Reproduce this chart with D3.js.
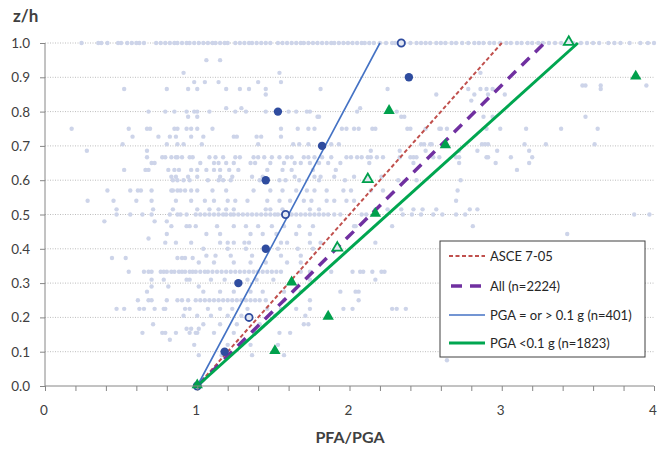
<!DOCTYPE html>
<html>
<head>
<meta charset="utf-8">
<script src="https://d3js.org/d3.v7.min.js"></script>
<style>
  body { margin: 0; background: #fff; }
  svg text { font-family: Lato, 'Open Sans', sans-serif; }
</style>
</head>
<body>
<div id="chart"></div>
<script>
// z/h levels of the story-level points
const zLevels = [0, 0.1, 0.2, 0.3, 0.4, 0.5, 0.6, 0.7, 0.8, 0.9, 1.0];
// PGA >= 0.1 g, mean PFA/PGA per level
const bluePoints = [1.0, 1.18, 1.34, 1.27, 1.45, 1.58, 1.45, 1.82, 1.53, 2.39, 2.34];
// PGA < 0.1 g
const greenPoints = [1.0, 1.51, 1.86, 1.62, 1.92, 2.17, 2.12, 2.63, 2.26, 3.88, 3.44];
const blueOpen = [0, 0.2, 0.5, 1.0];
const greenOpen = [0.4, 0.6, 1.0];

// fitted lines: PFA/PGA at z/h = 0 and z/h = 1
const fitNames = ["ASCE 7-05", "All (n=2224)", "PGA = or > 0.1 g (n=401)", "PGA <0.1 g (n=1823)"];
const fitStart = [1, 1, 1, 1];
const fitEnd = [3.0, 3.28, 2.2, 3.5];

const xTicks = [0, 1, 2, 3, 4];
const yTicks = [0, 0.1, 0.2, 0.3, 0.4, 0.5, 0.6, 0.7, 0.8, 0.9, 1.0];

// all recorded data points, grouped by z/h row: [z/h, [PFA/PGA ...]]
const cloud = [
  [1.0, [0.24, 0.35, 0.37, 0.41, 0.48, 0.5, 0.54, 0.57, 0.6, 0.62, 0.65, 0.73, 0.76, 0.79, 0.82, 0.85, 0.87, 0.9, 0.93, 0.95, 0.98, 1.01, 1.04, 1.07, 1.1, 1.12, 1.15, 1.18, 1.2, 1.25, 1.28, 1.31, 1.34, 1.36, 1.39, 1.42, 1.45, 1.48, 1.53, 1.56, 1.59, 1.62, 1.65, 1.68, 1.7, 1.73, 1.76, 1.79, 1.82, 1.85, 1.88, 1.9, 1.93, 1.96, 1.99, 2.02, 2.05, 2.08, 2.1, 2.13, 2.16, 2.2, 2.24, 2.28, 2.3, 2.36, 2.4, 2.44, 2.47, 2.5, 2.53, 2.57, 2.6, 2.63, 2.67, 2.7, 2.74, 2.78, 2.82, 2.85, 2.88, 2.92, 2.95, 2.99, 3.03, 3.06, 3.1, 3.13, 3.17, 3.2, 3.24, 3.27, 3.31, 3.35, 3.39, 3.47, 3.52, 3.56, 3.6, 3.64, 3.7, 3.74, 3.78, 3.84, 3.91, 3.96, 4.0]],
  [0.95, [1.06, 1.15]],
  [0.913, [0.91, 1.54, 2.86]],
  [0.886, [0.98, 1.05, 1.14, 1.40, 1.55]],
  [0.876, [3.53, 3.55, 3.65, 3.95]],
  [0.866, [0.52, 0.80, 0.94, 1.0, 1.19, 1.28, 1.34, 1.45, 1.81, 2.25, 2.78, 2.86, 2.90, 2.94, 3.65]],
  [0.85, [1.45, 2.57, 2.82, 2.91, 3.02]],
  [0.832, [2.80]],
  [0.81, [1.19, 1.29, 2.07]],
  [0.80, [0.68, 0.79, 0.85, 0.93, 0.98, 1.0, 1.08, 1.25, 1.32, 1.45, 1.60, 1.65, 1.72, 1.74, 2.05, 2.31]],
  [0.785, [0.94, 1.0, 1.79, 1.80, 2.34, 2.36, 2.88, 2.94, 3.55]],
  [0.75, [0.175, 0.55, 0.67, 0.69, 0.85, 0.87, 0.93, 0.96, 1.0, 1.10, 1.55, 1.66, 1.73, 1.77, 1.95, 1.98, 2.03, 2.06, 2.15, 2.17, 2.38, 2.40, 2.50, 2.59, 2.60, 2.64, 2.90, 2.99, 3.16, 3.39, 3.63]],
  [0.727, [0.575, 0.745, 0.82, 0.86, 0.96, 1.04, 1.24, 1.26, 1.39, 1.42, 1.55]],
  [0.705, [0.51, 0.80, 0.87, 0.91, 1.03, 1.40, 1.63, 1.67, 1.73, 1.81, 1.88, 1.93, 2.47, 2.49, 2.53, 2.54, 2.87, 2.89, 2.91, 3.15, 3.29, 3.61]],
  [0.686, [0.275, 0.67, 2.14, 2.33, 2.50, 2.72, 2.84, 2.97, 3.18]],
  [0.667, [0.67, 0.77, 0.79, 0.83, 0.86, 0.87, 0.90, 0.95, 0.97, 1.08, 1.12, 1.17, 1.25, 1.28, 1.37, 1.40, 1.44, 1.49, 1.54, 1.59, 1.62, 1.70, 1.73, 1.77, 1.82, 1.88, 1.98, 2.01, 2.05, 2.08, 2.12, 2.14, 2.18, 2.22, 2.33, 2.40, 2.42, 2.44, 2.55, 2.59, 2.70, 2.72, 2.90, 2.91, 3.06, 3.20]],
  [0.65, [0.70, 0.72, 1.02, 1.11, 1.14, 1.19, 1.24, 1.35, 1.38, 1.48, 1.57, 1.64, 1.68, 1.74, 1.80, 1.86, 1.94, 2.13, 2.42, 2.72, 2.96, 3.18]],
  [0.63, [0.52, 0.66, 0.68, 0.81, 0.85, 0.88, 0.96, 1.0, 1.06, 1.11, 1.15, 1.21, 1.27, 1.46, 1.56, 1.62, 1.76, 1.91, 3.10]],
  [0.61, [0.83, 0.86, 0.94, 1.0, 1.15, 1.23, 1.36, 1.43, 1.64, 1.77, 1.81, 1.90, 2.03, 2.12, 2.21]],
  [0.60, [0.84, 0.87, 0.91, 0.95, 1.07, 1.14, 1.17, 1.22, 1.41, 1.54, 1.58, 1.67, 1.80, 1.97, 2.32, 2.44, 2.73]],
  [0.57, [0.41, 0.56, 0.61, 0.63, 0.70, 0.83, 0.84, 0.87, 0.89, 0.92, 0.96, 1.0, 1.10, 1.19, 1.37, 1.48, 1.56, 1.65, 1.72, 1.77, 1.85, 1.96, 2.01, 2.14, 2.22, 2.71]],
  [0.54, [0.28, 0.45, 0.60, 0.70, 0.86, 0.96, 1.05, 1.11, 1.20, 1.25, 1.33, 1.46, 1.54, 1.61, 1.70, 1.75, 1.85, 1.90, 1.98, 2.03, 2.70]],
  [0.515, [0.47, 0.71, 0.84, 1.0, 1.08, 1.14, 1.19, 1.24, 1.45, 1.48, 1.56, 1.74, 1.80, 2.17, 2.25, 2.34, 2.42, 2.48, 2.57, 2.79, 2.84]],
  [0.5, [0.47, 0.56, 0.64, 0.70, 0.82, 0.87, 0.89, 0.93, 0.99, 1.02, 1.05, 1.08, 1.11, 1.14, 1.17, 1.19, 1.22, 1.24, 1.27, 1.30, 1.33, 1.36, 1.39, 1.42, 1.45, 1.48, 1.51, 1.53, 1.56, 1.59, 1.62, 1.65, 1.68, 1.71, 1.74, 1.77, 1.80, 1.83, 1.86, 1.90, 1.94, 2.08, 2.11, 2.35, 2.41, 2.47, 2.55, 2.61, 2.70, 2.76, 3.87, 3.97]],
  [0.48, [0.39, 0.72, 0.80]],
  [0.466, [0.83, 0.93, 0.95, 0.99, 1.13, 1.24, 1.32, 1.40, 1.49, 1.57, 1.67, 1.76, 2.03, 2.04, 2.28, 2.81]],
  [0.443, [0.80, 1.06, 1.15, 1.35, 1.43, 1.52, 1.65, 1.74, 3.43]],
  [0.43, [0.68]],
  [0.418, [0.79, 0.86, 0.96, 1.15, 1.20, 1.24, 1.31, 1.34, 1.55, 1.59, 1.74, 1.81, 2.17]],
  [0.40, [1.04, 1.20, 1.32, 1.53, 1.66, 1.76]],
  [0.38, [1.06, 1.12, 1.22, 1.36, 1.55, 1.68]],
  [0.373, [0.44, 0.53, 0.87, 0.90, 0.92, 0.97]],
  [0.36, [1.01, 1.11, 1.24, 1.35, 1.45, 1.59, 1.68]],
  [0.333, [0.55, 0.65, 0.68, 0.70, 0.76, 0.78, 0.80, 0.83, 0.85, 0.88, 0.90, 0.92, 0.95, 0.97, 0.99, 1.02, 1.05, 1.07, 1.10, 1.13, 1.16, 1.19, 1.22, 1.25, 1.28, 1.31, 1.34, 1.37, 1.40, 1.43, 1.46, 1.49, 1.52, 1.55, 1.68, 1.74, 1.88, 2.02, 2.07, 2.09, 2.15, 2.21, 2.23]],
  [0.31, [0.70, 0.78, 0.93, 0.95, 1.09, 1.18, 1.33, 1.39, 1.50, 1.74, 2.17]],
  [0.29, [0.70, 0.81, 1.01]],
  [0.275, [0.67, 1.04, 1.15, 1.24, 1.35, 1.43, 1.57, 1.68, 1.94, 2.04, 2.06]],
  [0.25, [0.61, 0.68, 0.70, 0.80, 0.87, 0.90, 0.94, 0.99, 1.02, 1.05, 1.08, 1.11, 1.14, 1.17, 1.20, 1.23, 1.26, 1.29, 1.32, 1.35, 1.38, 1.41, 1.45, 1.57, 1.74, 2.06]],
  [0.225, [0.47, 0.52, 0.62, 0.65, 0.72, 0.78, 0.79, 0.92, 0.95, 1.07, 1.15, 1.23, 1.33, 1.46, 1.55, 1.65, 1.74, 1.96, 2.02, 2.28, 2.31, 2.37]],
  [0.205, [0.91, 1.0, 1.09, 1.20, 1.29, 1.51, 1.71]],
  [0.18, [0.71, 1.04, 1.15, 1.26, 1.41, 1.70, 1.73]],
  [0.167, [0.93, 0.96, 1.01]],
  [0.155, [0.64, 0.77, 0.79, 0.86, 0.95, 0.99, 1.0, 1.11, 1.24, 1.38, 1.54, 1.61]],
  [0.135, [0.82]],
  [0.12, [0.98, 1.20, 1.29, 1.35, 1.53]],
  [0.09, [1.01, 1.16, 1.36, 1.57]],
  [0.075, [2.64]]
];

const width = 657, height = 449;
const margin = { left: 45, right: 3, top: 43, bottom: 63 };

const svg = d3.select("#chart").append("svg")
  .attr("width", width)
  .attr("height", height);

const x = d3.scaleLinear().domain([0, 4]).range([margin.left, width - margin.right]);
const y = d3.scaleLinear().domain([0, 1]).range([height - margin.bottom, margin.top]);

// dotted gridlines
svg.append("g")
  .selectAll("line")
  .data(yTicks.filter(d => d > 0))
  .enter().append("line")
  .attr("x1", x(0)).attr("x2", x(4))
  .attr("y1", d => y(d)).attr("y2", d => y(d))
  .attr("stroke", "#bdbdbd")
  .attr("stroke-width", 1)
  .attr("stroke-dasharray", "1,1.5");

// cloud of all data
const cloudPts = [];
cloud.forEach(row => row[1].forEach(v => cloudPts.push([v, row[0]])));
svg.append("g")
  .selectAll("circle")
  .data(cloudPts)
  .enter().append("circle")
  .attr("cx", d => x(d[0]))
  .attr("cy", d => y(d[1]))
  .attr("r", 2.2)
  .attr("fill", "#cdd4e9");

// fitted lines
const lineStyles = [
  { color: "#c0504d", width: 2, dash: "4,2.5" },
  { color: "#7030a0", width: 3.5, dash: "11,8" },
  { color: "#4472c4", width: 1.6, dash: null },
  { color: "#00a650", width: 3, dash: null }
];
const lineG = svg.append("g");
fitNames.forEach((name, i) => {
  const s = lineStyles[i];
  lineG.append("line")
    .attr("x1", x(fitStart[i])).attr("y1", y(0))
    .attr("x2", x(fitEnd[i])).attr("y2", y(1))
    .attr("stroke", s.color)
    .attr("stroke-width", s.width)
    .attr("stroke-dasharray", s.dash);
});

// markers
const blueColor = "#2f4c9f", greenColor = "#00a04c";
svg.append("g")
  .selectAll("circle")
  .data(zLevels)
  .enter().append("circle")
  .attr("cx", (d, i) => x(bluePoints[i]))
  .attr("cy", d => y(d))
  .attr("r", d => blueOpen.includes(d) ? 3.6 : 4.2)
  .attr("fill", d => blueOpen.includes(d) ? "#e4e8f3" : blueColor)
  .attr("stroke", blueColor)
  .attr("stroke-width", d => blueOpen.includes(d) ? 1.8 : 0);

const tri = d3.symbol().type(d3.symbolTriangle);
svg.append("g")
  .selectAll("path")
  .data(zLevels)
  .enter().append("path")
  .attr("d", d => tri.size(greenOpen.includes(d) ? 42 : 56)())
  .attr("transform", (d, i) => `translate(${x(greenPoints[i])},${y(d) - 1})`)
  .attr("fill", d => greenOpen.includes(d) ? "#e4e8f3" : greenColor)
  .attr("stroke", greenColor)
  .attr("stroke-width", d => greenOpen.includes(d) ? 1.8 : 0);

// axes
const axisColor = "#868686";
const xAxis = svg.append("g")
  .attr("transform", `translate(0,${y(0)})`)
  .call(d3.axisBottom(x).tickValues(d3.range(0, 4.01, 0.2)).tickSize(5).tickFormat(""));
xAxis.select(".domain").attr("stroke", axisColor).attr("d", `M${x(0)},0H${x(4)}`);
xAxis.selectAll(".tick line").attr("stroke", axisColor);

const yAxis = svg.append("g")
  .attr("transform", `translate(${x(0)},0)`)
  .call(d3.axisLeft(y).tickValues(yTicks).tickSize(5).tickFormat(""));
yAxis.select(".domain").attr("stroke", axisColor).attr("d", `M0,${y(0)}V${y(1)}`);
yAxis.selectAll(".tick line").attr("stroke", axisColor);

// tick labels
svg.append("g")
  .selectAll("text")
  .data(xTicks)
  .enter().append("text")
  .attr("x", d => x(d) - 1)
  .attr("y", y(0) + 29)
  .attr("text-anchor", "middle")
  .attr("font-size", 13.5)
  .attr("fill", "#404040")
  .text(d => d);

svg.append("g")
  .selectAll("text")
  .data(yTicks)
  .enter().append("text")
  .attr("x", 30)
  .attr("y", d => y(d) + 5)
  .attr("text-anchor", "end")
  .attr("font-size", 13.5)
  .attr("fill", "#404040")
  .text(d => d3.format(".1f")(d));

// axis titles
svg.append("text")
  .attr("x", 13).attr("y", 22)
  .attr("font-size", 17).attr("font-weight", "bold")
  .attr("fill", "#404040")
  .text("z/h");
svg.append("text")
  .attr("x", 350).attr("y", 443)
  .attr("text-anchor", "middle")
  .attr("font-size", 16).attr("font-weight", "bold")
  .attr("fill", "#404040")
  .text("PFA/PGA");

// legend
const lg = svg.append("g").attr("transform", "translate(440,241)");
lg.append("rect")
  .attr("width", 205).attr("height", 116)
  .attr("fill", "#fff")
  .attr("stroke", "#404040")
  .attr("stroke-width", 1);
const rowY = [15, 45, 74, 102];
fitNames.forEach((name, i) => {
  const s = lineStyles[i];
  lg.append("line")
    .attr("x1", i === 1 ? 11 : 9).attr("x2", 45)
    .attr("y1", rowY[i]).attr("y2", rowY[i])
    .attr("stroke", s.color)
    .attr("stroke-width", s.width)
    .attr("stroke-dasharray", s.dash);
  lg.append("text")
    .attr("x", 50).attr("y", rowY[i] + 5)
    .attr("font-size", 13)
    .attr("fill", "#262626")
    .text(name);
});
</script>
</body>
</html>
